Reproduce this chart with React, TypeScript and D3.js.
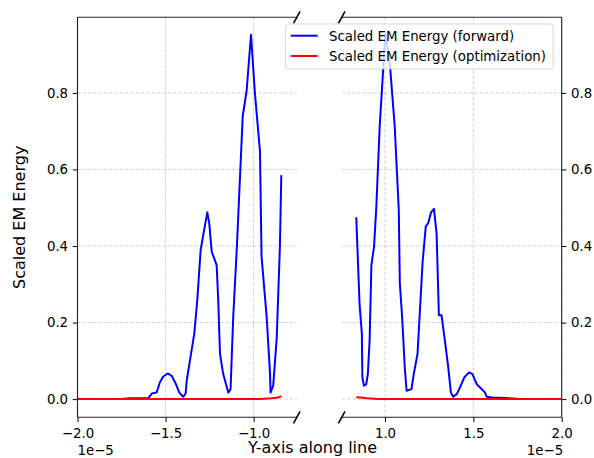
import React, { useEffect, useRef } from 'react';
import * as d3 from 'd3';

// positions are in units of 1e-5 (the axis offset text)
const leftPosition = [
  -2.0, -1.75, -1.7, -1.62, -1.6, -1.577, -1.551, -1.532, -1.513, -1.488, -1.465, -1.441, -1.422, -1.4, -1.386,
  -1.38, -1.362, -1.337, -1.32, -1.301, -1.286, -1.263, -1.252, -1.238, -1.21, -1.201, -1.191, -1.173, -1.144,
  -1.131, -1.116, -1.096, -1.062, -1.04, -1.015, -0.993, -0.964, -0.955, -0.926, -0.907, -0.904, -0.889, -0.869,
  -0.851, -0.843,
];
const leftForward = [
  0.0, 0.0, 0.002, 0.002, 0.002, 0.015, 0.017, 0.044, 0.059, 0.067, 0.061, 0.039, 0.017, 0.006, 0.015,
  0.048, 0.1, 0.171, 0.258, 0.389, 0.429, 0.488, 0.459, 0.385, 0.35, 0.258, 0.118, 0.066, 0.017,
  0.026, 0.214, 0.39, 0.739, 0.805, 0.952, 0.8, 0.647, 0.372, 0.214, 0.066, 0.017, 0.035, 0.16,
  0.398, 0.585,
];
const rightPosition = [
  0.8375, 0.856, 0.869, 0.872, 0.881, 0.894, 0.903, 0.913, 0.923, 0.938, 0.951, 0.97, 1.002, 1.027, 1.055,
  1.078, 1.084, 1.097, 1.112, 1.122, 1.15, 1.163, 1.184, 1.203, 1.213, 1.231, 1.244, 1.26, 1.277, 1.292,
  1.305, 1.32, 1.339, 1.358, 1.373, 1.386, 1.406, 1.424, 1.449, 1.476, 1.494, 1.519, 1.548, 1.566, 1.576,
  1.605, 1.68, 1.765, 2.0,
];
const rightForward = [
  0.475, 0.249, 0.171, 0.057, 0.035, 0.039, 0.066, 0.153, 0.35, 0.398, 0.503, 0.713, 0.954, 0.879, 0.713,
  0.494, 0.302, 0.214, 0.083, 0.022, 0.026, 0.066, 0.118, 0.276, 0.359, 0.452, 0.459, 0.487, 0.497, 0.433,
  0.219, 0.219, 0.153, 0.083, 0.017, 0.006, 0.013, 0.03, 0.057, 0.07, 0.066, 0.039, 0.026, 0.017, 0.006,
  0.004, 0.003, 0.0, 0.0,
];
const leftOptPosition = [-2.0, -0.96, -0.9, -0.86, -0.843];
const leftOptimization = [0.0, 0.0, 0.002, 0.004, 0.008];
const rightOptPosition = [0.8375, 0.86, 0.9, 0.96, 2.0];
const rightOptimization = [0.005, 0.004, 0.002, 0.0, 0.0];

const leftTicks = [-2.0, -1.5, -1.0];
const rightTicks = [1.0, 1.5, 2.0];
const yTicks = [0.0, 0.2, 0.4, 0.6, 0.8];
const seriesNames = ['Scaled EM Energy (forward)', 'Scaled EM Energy (optimization)'];
const seriesColors = ['#0000ff', '#ff0000'];

const W = 594;
const H = 458;
const TOP = 17.3;
const BOTTOM = 417.3;
const FONT = 'DejaVu Sans, sans-serif';

const App = () => {
  const svgRef = useRef();

  useEffect(() => {
    const svg = d3.select(svgRef.current);
    svg.selectAll('*').remove();

    const y = d3.scaleLinear().domain([-0.0475, 0.9975]).range([BOTTOM, TOP]);

    const panels = [
      { x: d3.scaleLinear().domain([-2.0, -0.755]).range([77.5, 296.8]), ticks: leftTicks, side: 'left',
        fwd: [leftPosition, leftForward], opt: [leftOptPosition, leftOptimization] },
      { x: d3.scaleLinear().domain([0.755, 2.0]).range([341.7, 561.7]), ticks: rightTicks, side: 'right',
        fwd: [rightPosition, rightForward], opt: [rightOptPosition, rightOptimization] },
    ];

    panels.forEach((p, i) => {
      const [x0, x1] = p.x.range();
      const g = svg.append('g');
      const clipId = `clip-${i}`;
      svg.append('clipPath').attr('id', clipId)
        .append('rect').attr('x', x0).attr('y', TOP).attr('width', x1 - x0).attr('height', BOTTOM - TOP);

      // grid
      const grid = g.append('g').attr('stroke', '#c8c8c8').attr('stroke-width', 0.8).attr('stroke-dasharray', '3.5,1.8');
      p.ticks.forEach((t) => {
        grid.append('line').attr('x1', p.x(t)).attr('x2', p.x(t)).attr('y1', TOP).attr('y2', BOTTOM);
      });
      yTicks.forEach((t) => {
        grid.append('line').attr('x1', x0).attr('x2', x1).attr('y1', y(t)).attr('y2', y(t));
      });

      // curves
      const line = d3.line().x((d) => p.x(d[0])).y((d) => y(d[1]));
      const curves = g.append('g').attr('clip-path', `url(#${clipId})`);
      [p.fwd, p.opt].forEach((s, k) => {
        curves.append('path')
          .datum(s[0].map((v, j) => [v, s[1][j]]))
          .attr('d', line)
          .attr('fill', 'none')
          .attr('stroke', seriesColors[k])
          .attr('stroke-width', 2)
          .attr('stroke-linejoin', 'round')
          .attr('stroke-linecap', 'butt');
      });

      // x axis
      const xAxis = g.append('g').attr('transform', `translate(0,${BOTTOM})`)
        .call(d3.axisBottom(p.x).tickValues(p.ticks).tickSize(4.7).tickPadding(6.3)
          .tickFormat((d) => d3.format('.1f')(d).replace('-', '\u2212')));
      xAxis.select('.domain').remove();
      xAxis.selectAll('.tick text').attr('font-family', FONT).attr('font-size', 13.33).attr('fill', '#000');
      xAxis.selectAll('.tick line').attr('stroke', '#000').attr('stroke-width', 1);

      // y axis
      const yAxisGen = p.side === 'left' ? d3.axisLeft(y) : d3.axisRight(y);
      const yAxis = g.append('g').attr('transform', `translate(${p.side === 'left' ? x0 : x1},0)`)
        .call(yAxisGen.tickValues(yTicks).tickSize(4.7).tickPadding(4.7).tickFormat(d3.format('.1f')));
      yAxis.select('.domain').remove();
      yAxis.selectAll('.tick text').attr('font-family', FONT).attr('font-size', 13.33).attr('fill', '#000');
      yAxis.selectAll('.tick line').attr('stroke', '#000').attr('stroke-width', 1);

      // spines: top, bottom and the outer side
      const spines = g.append('g').attr('stroke', '#222').attr('stroke-width', 1.1).attr('fill', 'none');
      spines.append('line').attr('x1', x0).attr('x2', x1).attr('y1', TOP).attr('y2', TOP);
      spines.append('line').attr('x1', x0).attr('x2', x1).attr('y1', BOTTOM).attr('y2', BOTTOM);
      const sx = p.side === 'left' ? x0 : x1;
      spines.append('line').attr('x1', sx).attr('x2', sx).attr('y1', TOP).attr('y2', BOTTOM);

      // break marks on the inner side
      const bx = p.side === 'left' ? x1 : x0;
      const dx = 0.015 * (x1 - x0);
      const dy = 0.015 * (BOTTOM - TOP);
      [TOP, BOTTOM].forEach((by) => {
        g.append('line')
          .attr('x1', bx - dx).attr('y1', by + dy).attr('x2', bx + dx).attr('y2', by - dy)
          .attr('stroke', '#000').attr('stroke-width', 1.6);
      });

      // offset text
      g.append('text')
        .attr('x', p.side === 'left' ? x0 : x1 + 1.5)
        .attr('y', 455)
        .attr('text-anchor', p.side === 'left' ? 'start' : 'end')
        .attr('font-family', FONT).attr('font-size', 13.33)
        .text('1e\u22125');
    });

    // axis labels
    svg.append('text').attr('x', 312.5).attr('y', 452.5).attr('text-anchor', 'middle')
      .attr('font-family', FONT).attr('font-size', 16).text('Y-axis along line');
    svg.append('text').attr('transform', `translate(25,${(TOP + BOTTOM) / 2}) rotate(-90)`)
      .attr('text-anchor', 'middle').attr('font-family', FONT).attr('font-size', 16).text('Scaled EM Energy');

    // legend
    const lg = svg.append('g').attr('transform', 'translate(285.7,24)');
    lg.append('rect').attr('width', 267.5).attr('height', 45).attr('rx', 2.7)
      .attr('fill', '#fff').attr('fill-opacity', 0.8).attr('stroke', '#cccccc').attr('stroke-opacity', 0.8);
    seriesNames.forEach((name, k) => {
      const ly = 11.7 + k * 20.3;
      lg.append('line').attr('x1', 5).attr('x2', 32).attr('y1', ly).attr('y2', ly)
        .attr('stroke', seriesColors[k]).attr('stroke-width', 2);
      lg.append('text').attr('x', 43.3).attr('y', ly + 4.8)
        .attr('font-family', FONT).attr('font-size', 13.33).text(name);
    });
  }, []);

  return (
    <svg ref={svgRef} width={W} height={H} style={{ position: 'absolute', left: 0, top: 0, background: '#fff' }} />
  );
};

export default App;
